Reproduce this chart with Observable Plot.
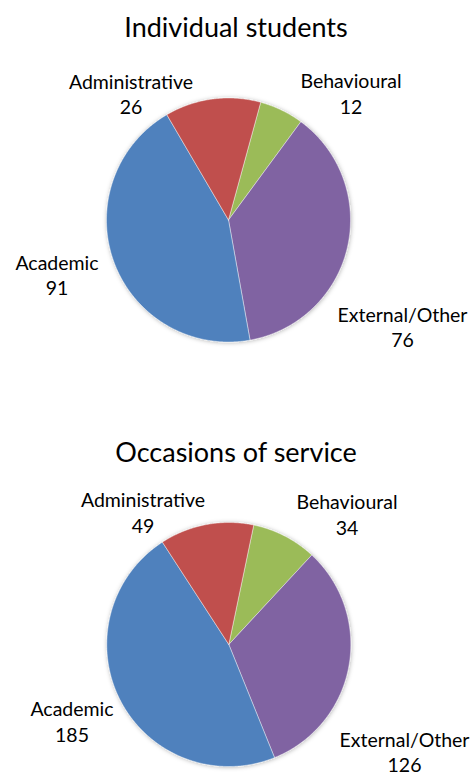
<!DOCTYPE html>
<html>
<head>
<meta charset="utf-8">
<script src="https://cdn.jsdelivr.net/npm/d3@7"></script>
<script src="https://cdn.jsdelivr.net/npm/@observablehq/plot@0.6"></script>
<style>
  html, body { margin: 0; padding: 0; background: #fff; }
  #chart svg { display: block; }
</style>
</head>
<body>
<div id="chart"></div>
<script>
// ---- data ----
const categories = ["Behavioural", "External/Other", "Academic", "Administrative"];
const studentsValues = [12, 76, 91, 26];
const occasionsValues = [34, 126, 185, 49];
const chartTitles = ["Individual students", "Occasions of service"];
const sliceColors = ["#9BBB59", "#8064A2", "#4F81BD", "#C0504D"];

// ---- layout (pixels within each panel) ----
const W = 471;
const panels = [
  { title: chartTitles[0], values: studentsValues, height: 425, cx: 228, cy: 219.5, r: 122, start: 15.3,
    titleY: 36, labels: [[350.5, 87.5], [402, 321], [56.5, 269], [130.5, 88]] },
  { title: chartTitles[1], values: occasionsValues, height: 351, cx: 228.3, cy: 219, r: 122, start: 11.8,
    titleY: 36.5, labels: [[346.5, 83.5], [404, 321], [71.5, 290.5], [142.5, 81.5]] }
];
const lineGap = 25.5;
const FONT = "Lato, 'Open Sans', sans-serif";

const root = document.getElementById("chart");

panels.forEach((p, pi) => {
  const pie = d3.pie().sort(null).value(d => d.value)
    .startAngle(p.start * Math.PI / 180).endAngle(p.start * Math.PI / 180 + 2 * Math.PI);
  const arcs = pie(categories.map((c, i) => ({ name: c, value: p.values[i] })));
  const pts = [];
  arcs.forEach(a => {
    const name = a.data.name;
    pts.push({ name, x: p.cx, y: p.cy });
    const n = Math.max(2, Math.ceil((a.endAngle - a.startAngle) / (Math.PI / 360)));
    for (let k = 0; k <= n; k++) {
      const t = a.startAngle + (a.endAngle - a.startAngle) * k / n;
      pts.push({ name, x: p.cx + p.r * Math.sin(t), y: p.cy - p.r * Math.cos(t) });
    }
    pts.push({ name, x: p.cx, y: p.cy });
  });
  const labelData = categories.map((c, i) => ({ name: c, value: p.values[i], x: p.labels[i][0], y: p.labels[i][1] }));

  const svg = Plot.plot({
    width: W,
    height: p.height,
    margin: 0,
    style: { fontFamily: FONT, background: "#fff", color: "#000" },
    x: { domain: [0, W], axis: null },
    y: { domain: [p.height, 0], axis: null },
    color: { domain: categories, range: sliceColors },
    marks: [
      Plot.line(pts, { x: "x", y: "y", z: "name", fill: "name", stroke: "#ffffff", strokeWidth: 0.6, strokeOpacity: 0.7, curve: "linear" }),
      Plot.text([p.title], { x: () => W / 2, y: () => p.titleY, text: d => d, fontSize: 27, lineAnchor: "bottom", fill: "#000" }),
      Plot.text(labelData, { x: "x", y: "y", text: "name", fontSize: 19.5, lineAnchor: "bottom", fill: "#000" }),
      Plot.text(labelData, { x: "x", y: d => d.y + lineGap, text: d => String(d.value), fontSize: 19.5, lineAnchor: "bottom", fill: "#000" })
    ]
  });

  // soft shadow around the pie, as in the original
  const ns = "http://www.w3.org/2000/svg";
  const defs = document.createElementNS(ns, "defs");
  const fid = "pieShadow" + pi;
  defs.innerHTML = `<filter id="${fid}" x="-20%" y="-20%" width="140%" height="140%">
    <feDropShadow dx="0.5" dy="0.5" stdDeviation="2" flood-color="#000" flood-opacity="0.3"/></filter>`;
  svg.insertBefore(defs, svg.firstChild);
  const lineG = svg.querySelector('g[aria-label="line"]');
  if (lineG) lineG.setAttribute("filter", `url(#${fid})`);

  root.appendChild(svg);
});
</script>
</body>
</html>
